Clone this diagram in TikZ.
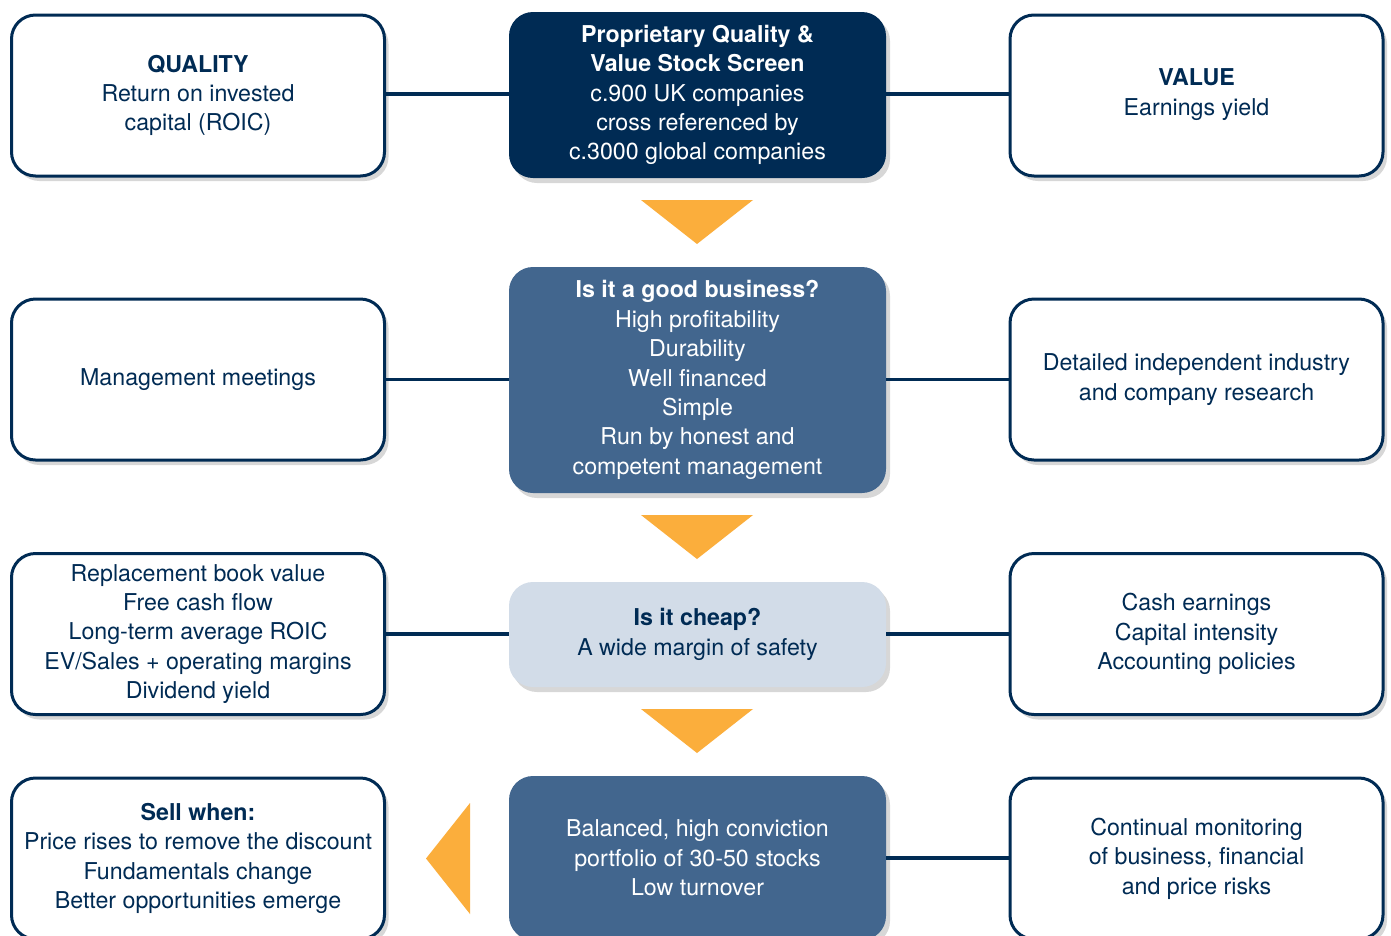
\documentclass[tikz,border=0pt]{standalone}
\usepackage{fontspec}
\setmainfont{TeX Gyre Heros}
\usetikzlibrary{shadows,calc}
\definecolor{navy}{RGB}{0,43,84}
\definecolor{midblue}{RGB}{66,102,142}
\definecolor{lightblue}{RGB}{210,220,232}
\definecolor{orng}{RGB}{251,174,60}
\tikzset{
  base/.style={rounded corners=24pt, align=center, inner sep=0pt,
    font=\fontsize{23.2}{29.4}\selectfont,
    drop shadow={opacity=0.22, shadow xshift=4pt, shadow yshift=-5pt, fill=black!70}},
  sidebox/.style={base, draw=navy, line width=3pt, fill=white, text=navy,
    minimum width=373pt, minimum height=161pt},
  darkbox/.style={base, fill=navy, text=white, minimum width=377pt},
  midbox/.style={base, fill=midblue, text=white, minimum width=377pt},
  lightbox/.style={base, fill=lightblue, text=navy, minimum width=377pt},
  conn/.style={draw=navy, line width=3.5pt},
  arrowtri/.style={fill=orng}
}
\begin{document}
\begin{tikzpicture}[x=1pt,y=-1pt]
\useasboundingbox (0,0) rectangle (1391,935);
\clip (0,0) rectangle (1391,935);
\fill[white] (0,0) rectangle (1391,935);

% row 1
\node[sidebox] (q) at (198,95.5) {\textbf{QUALITY}\\Return on invested\\capital (ROIC)};
\node[darkbox, minimum height=166pt] (scr) at (697.5,95) {\textbf{Proprietary Quality \&}\\\textbf{Value Stock Screen}\\c.900 UK companies\\cross referenced by\\c.3000 global companies};
\node[sidebox] (val) at (1196.5,95.5) {\textbf{VALUE}\\Earnings yield\\[-22.4pt]};

% row 2
\node[sidebox] (mm) at (198,379.5) {Management meetings};
\node[midbox, minimum height=226pt] (good) at (697.5,380) {\textbf{Is it a good business?}\\High profitability\\Durability\\Well financed\\Simple\\Run by honest and\\competent management};
\node[sidebox] (res) at (1196.5,379.5) {Detailed independent industry\\and company research};

% row 3
\node[sidebox] (book) at (198,634) {Replacement book value\\Free cash flow\\Long-term average ROIC\\EV/Sales + operating margins\\Dividend yield};
\node[lightbox, minimum height=105pt] (cheap) at (697.5,634.5) {\textbf{Is it cheap?}\\A wide margin of safety};
\node[sidebox] (cash) at (1196.5,634) {Cash earnings\\Capital intensity\\Accounting policies};

% row 4
\node[sidebox] (sell) at (198,858.5) {\textbf{Sell when:}\\Price rises to remove the discount\\Fundamentals change\\Better opportunities emerge};
\node[midbox, minimum height=164pt] (port) at (697.5,858) {Balanced, high conviction\\portfolio of 30-50 stocks\\Low turnover};
\node[sidebox] (mon) at (1196.5,858.5) {Continual monitoring\\of business, financial\\and price risks};

% connectors
\draw[conn] (q.east |- 0,94) -- (scr.west |- 0,94);
\draw[conn] (scr.east |- 0,94) -- (val.west |- 0,94);
\draw[conn] (mm.east) -- (good.west |- mm.east);
\draw[conn] (good.east |- res.west) -- (res.west);
\draw[conn] (book.east) -- (cheap.west |- book.east);
\draw[conn] (cheap.east |- cash.west) -- (cash.west);
\draw[conn] (port.east |- 0,858) -- (mon.west |- 0,858);

% orange triangles
\coordinate (t1) at (697,200);
\coordinate (t2) at (697,515);
\coordinate (t3) at (697,709);
\coordinate (t4) at (470,803);
\fill[arrowtri] (t1) ++(-56,0) -- ++(112,0) -- ++(-56,44) -- cycle;
\fill[arrowtri] (t2) ++(-56,0) -- ++(112,0) -- ++(-56,44) -- cycle;
\fill[arrowtri] (t3) ++(-56,0) -- ++(112,0) -- ++(-56,44) -- cycle;
\fill[arrowtri] (t4) -- ++(0,111) -- ++(-44,-55.5) -- cycle;
\end{tikzpicture}
\end{document}
